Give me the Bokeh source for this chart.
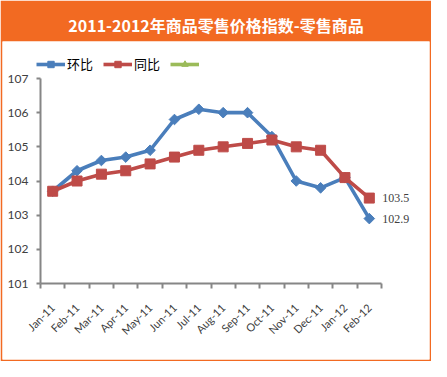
import math
from bokeh.plotting import figure
from bokeh.models import (Range1d, LinearAxis, FixedTicker,
                          Legend, LegendItem, LabelSet, ColumnDataSource)
from bokeh.embed import file_html
from bokeh.resources import INLINE

# ---- data ----
months = ["Jan-11", "Feb-11", "Mar-11", "Apr-11", "May-11", "Jun-11", "Jul-11",
          "Aug-11", "Sep-11", "Oct-11", "Nov-11", "Dec-11", "Jan-12", "Feb-12"]
huanbi = [103.7, 104.3, 104.6, 104.7, 104.9, 105.8, 106.1,
          106.0, 106.0, 105.3, 104.0, 103.8, 104.1, 102.9]
tongbi = [103.7, 104.0, 104.2, 104.3, 104.5, 104.7, 104.9,
          105.0, 105.1, 105.2, 105.0, 104.9, 104.1, 103.5]
third = [None] * len(months)   # third legend entry: series without values
series_names = ["环比", "同比", "\u00a0"]
y_ticks = [101, 102, 103, 104, 105, 106, 107]
title_text = "2011-2012年商品零售价格指数-零售商品"

ORANGE = "#F26A22"
BLUE = "#4A7EBB"
RED = "#BE4B48"
GREEN = "#9BBB59"
AXIS = "#868686"
TXT = "#404040"

# ---- layout (pixels) ----
W, H = 431, 361
B = 2            # orange border
TOP = 41         # orange title band
FW, FH = W - 2 * B, H - TOP - B          # frame size
PL, PR = 38, 379                          # plot area left/right inside frame
PT, PB = 37, 242                          # plot area top/bottom inside frame

n = len(months)
xc = [i + 0.5 for i in range(n)]          # category centres
bounds = list(range(n + 1))               # category boundaries
ymin, ymax = y_ticks[0], y_ticks[-1]

xs = (PR - PL) / n
ys = (PB - PT) / (ymax - ymin)
x_range = Range1d(-PL / xs, n + (FW - PR) / xs)
y_range = Range1d(ymin - (FH - PB) / ys, ymax + PT / ys)

p = figure(x_range=x_range, y_range=y_range, width=W, height=H,
           min_border_left=B, min_border_right=B, min_border_bottom=B, min_border_top=TOP,
           x_axis_location=None, y_axis_location=None,
           output_backend="svg", toolbar_location=None, tools="")
p.outline_line_color = None
p.xgrid.visible = False
p.ygrid.visible = False
p.background_fill_color = "white"
p.border_fill_color = ORANGE

p.title.text = title_text
p.title.align = "center"
p.title.text_color = "white"
p.title.text_font = "Noto Sans CJK SC"
p.title.text_font_style = "bold"
p.title.text_font_size = "16px"

# y axis
yax = LinearAxis(ticker=FixedTicker(ticks=y_ticks), fixed_location=0, bounds=(ymin, ymax))
yax.axis_line_color = AXIS
yax.axis_line_width = 2
yax.major_tick_line_color = AXIS
yax.major_tick_line_width = 2
yax.major_tick_out = 4
yax.major_tick_in = 0
yax.minor_tick_line_color = None
yax.major_label_text_font = "Lato"
yax.major_label_text_font_size = "12px"
yax.major_label_text_color = TXT
yax.major_label_standoff = 8
p.add_layout(yax, "left")

# x axis: tick marks between categories
tax = LinearAxis(ticker=FixedTicker(ticks=bounds), fixed_location=ymin, bounds=(0, n))
tax.axis_line_color = AXIS
tax.axis_line_width = 2
tax.major_tick_line_color = AXIS
tax.major_tick_line_width = 2
tax.major_tick_out = 5
tax.major_tick_in = 0
tax.minor_tick_line_color = None
tax.major_label_overrides = {b: "" for b in bounds}
p.add_layout(tax, "below")

# x axis: category labels
cax = LinearAxis(ticker=FixedTicker(ticks=xc), fixed_location=ymin, bounds=(0, n))
cax.major_label_overrides = {c: m for c, m in zip(xc, months)}
cax.axis_line_color = None
cax.major_tick_line_color = None
cax.minor_tick_line_color = None
cax.major_label_orientation = math.pi / 4
cax.major_label_text_font = "Lato"
cax.major_label_text_font_size = "11px"
cax.major_label_text_color = TXT
cax.major_label_standoff = 16
p.add_layout(cax, "below")

# series
l1 = p.line(xc, huanbi, line_color=BLUE, line_width=3.6)
m1 = p.scatter(xc, huanbi, marker="square", angle=math.pi / 4, size=7.5,
               fill_color=BLUE, line_color=BLUE)
l2 = p.line(xc, tongbi, line_color=RED, line_width=3.6)
m2 = p.scatter(xc, tongbi, marker="square", size=10, fill_color=RED, line_color=RED)
src3 = ColumnDataSource(dict(x=xc, y=[float("nan") if v is None else v for v in third]))
l3 = p.line("x", "y", source=src3, line_color=GREEN, line_width=3.6)
m3 = p.scatter("x", "y", source=src3, marker="triangle", size=9,
               fill_color=GREEN, line_color=GREEN)

# data labels for the last point
lab_src = ColumnDataSource(dict(x=[xc[-1], xc[-1]], y=[tongbi[-1], huanbi[-1]],
                                t=[f"{tongbi[-1]:.1f}", f"{huanbi[-1]:.1f}"]))
labels = LabelSet(x="x", y="y", text="t", source=lab_src, x_offset=13,
                  text_baseline="middle", text_font="Lato", text_font_size="12px",
                  text_color=TXT)
p.add_layout(labels)

legend = Legend(items=[LegendItem(label=series_names[0], renderers=[l1, m1]),
                       LegendItem(label=series_names[1], renderers=[l2, m2]),
                       LegendItem(label=series_names[2], renderers=[l3, m3])],
                orientation="horizontal", location=(34, FH - 32))
legend.border_line_color = None
legend.background_fill_alpha = 0
legend.padding = 0
legend.margin = 0
legend.spacing = 10
legend.glyph_width = 29
legend.glyph_height = 16
legend.label_standoff = 2
legend.label_text_font = "Noto Sans CJK SC"
legend.label_text_font_size = "13px"
legend.label_text_color = "black"
p.add_layout(legend, "center")

open("out.html", "w").write(file_html(p, INLINE))
